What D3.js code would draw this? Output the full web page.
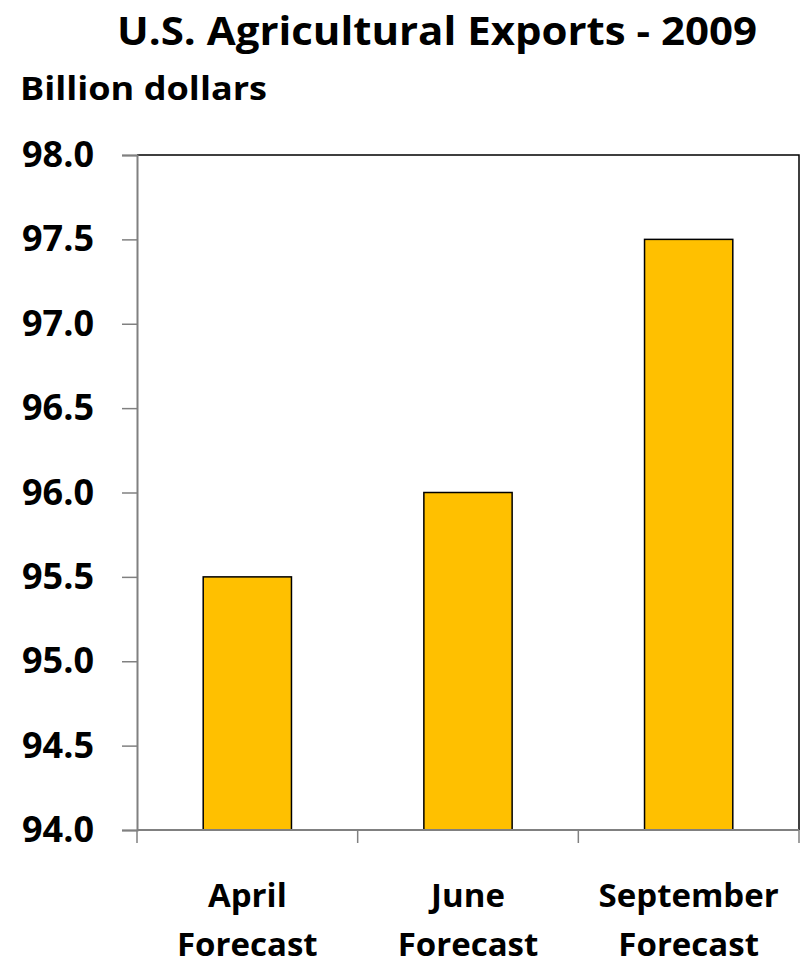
<!DOCTYPE html>
<html>
<head>
<meta charset="utf-8">
<script src="https://cdn.jsdelivr.net/npm/d3@7"></script>
<style>
  body { margin: 0; background: #fff; }
  text { font-family: "Open Sans", Lato, sans-serif; font-weight: bold; fill: #000; }
</style>
</head>
<body>
<svg id="chart" width="809" height="966"></svg>
<script>
const categories = [['April', 'Forecast'], ['June', 'Forecast'], ['September', 'Forecast']];
const values = [95.5, 96.0, 97.5];
const yTicks = [94.0, 94.5, 95.0, 95.5, 96.0, 96.5, 97.0, 97.5, 98.0];

const svg = d3.select('#chart');
const margin = { left: 137, right: 10, top: 155, bottom: 136 };
const width = 809, height = 966;

const x = d3.scaleBand(categories.map(d => d.join(' ')), [margin.left, width - margin.right])
  .paddingInner(0.6).paddingOuter(0.3);
const y = d3.scaleLinear([94, 98], [height - margin.bottom, margin.top]);

// plot frame: black top and right
svg.append('path')
  .attr('d', `M${x.range()[0]},${y(98)}H${x.range()[1]}V${y(94)}`)
  .attr('fill', 'none')
  .attr('stroke', '#000')
  .attr('stroke-width', 1.5);

// bars
svg.selectAll('rect.bar')
  .data(values)
  .join('rect')
  .attr('class', 'bar')
  .attr('x', (d, i) => x(categories[i].join(' ')))
  .attr('width', x.bandwidth())
  .attr('y', d => y(d))
  .attr('height', d => y(94) - y(d))
  .attr('fill', '#ffc000')
  .attr('stroke', '#000')
  .attr('stroke-width', 1.5);

// left axis
const yAxis = svg.append('g')
  .attr('transform', `translate(${margin.left},0)`)
  .call(d3.axisLeft(y).tickValues(yTicks).tickFormat(d3.format('.1f')).tickSize(15).tickPadding(28));
yAxis.select('.domain').attr('stroke', '#808080').attr('stroke-width', 2);
yAxis.selectAll('line').attr('stroke', '#808080').attr('stroke-width', 1.5);
yAxis.selectAll('text')
  .attr('font-size', 36)
  .attr('font-family', '"Open Sans", Lato, sans-serif')
  .attr('font-weight', 'bold')
  .attr('fill', '#000')
  .attr('dy', '0.32em');

// bottom axis with ticks at category boundaries
const bounds = d3.range(categories.length + 1).map(i => x.range()[0] + i * x.step());
const bottom = svg.append('g');
bottom.append('line')
  .attr('x1', x.range()[0]).attr('x2', x.range()[1])
  .attr('y1', y(94)).attr('y2', y(94))
  .attr('stroke', '#808080').attr('stroke-width', 2);
bottom.selectAll('line.tick')
  .data(bounds)
  .join('line')
  .attr('class', 'tick')
  .attr('x1', d => d).attr('x2', d => d)
  .attr('y1', y(94)).attr('y2', y(94) + 13)
  .attr('stroke', '#808080').attr('stroke-width', 1.5);

const labels = bottom.selectAll('text')
  .data(categories)
  .join('text')
  .attr('text-anchor', 'middle')
  .attr('font-size', 33)
  .attr('transform', d => `translate(${x(d.join(' ')) + x.bandwidth() / 2},0)`);
labels.selectAll('tspan')
  .data(d => d)
  .join('tspan')
  .attr('x', 0)
  .attr('y', (d, i) => 907 + i * 49)
  .text(d => d);

// title and unit
svg.append('text')
  .attr('x', 437).attr('y', 45)
  .attr('text-anchor', 'middle')
  .attr('font-size', 40)
  .attr('textLength', 640)
  .attr('lengthAdjust', 'spacingAndGlyphs')
  .text('U.S. Agricultural Exports - 2009');

svg.append('text')
  .attr('x', 20).attr('y', 100)
  .attr('font-size', 32)
  .attr('textLength', 247)
  .attr('lengthAdjust', 'spacingAndGlyphs')
  .text('Billion dollars');
</script>
</body>
</html>
